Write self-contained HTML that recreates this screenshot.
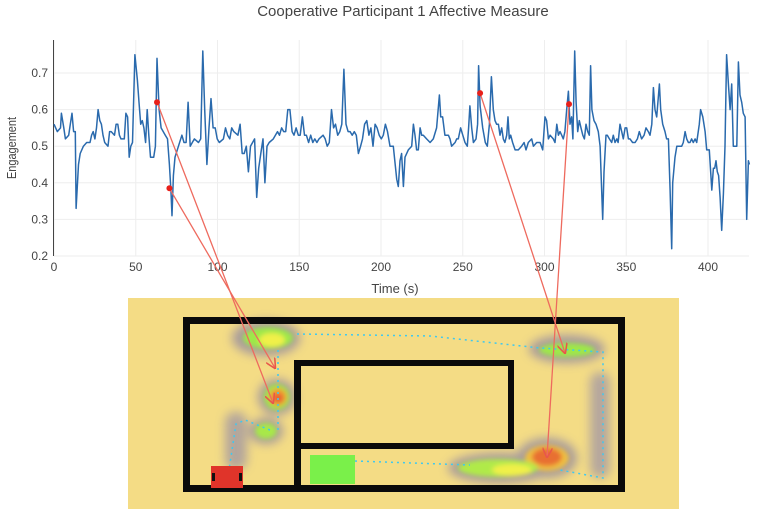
<!DOCTYPE html>
<html><head><meta charset="utf-8"><style>
html,body{margin:0;padding:0;background:#fff;}
body{width:763px;height:520px;overflow:hidden;position:relative;font-family:"Liberation Sans",sans-serif;}
svg{position:absolute;left:0;top:0;}
</style></head><body>
<svg id="chart" width="763" height="520">
  <defs>
    <filter id="blur4" x="-50%" y="-50%" width="200%" height="200%"><feGaussianBlur stdDeviation="5"/></filter>
    <filter id="blur2" x="-50%" y="-50%" width="200%" height="200%"><feGaussianBlur stdDeviation="2.5"/></filter>
    <marker id="arrow" viewBox="0 0 10 10" refX="9" refY="5" markerWidth="8" markerHeight="8" orient="auto">
      <path d="M0,0 L10,5 L0,10" fill="none" stroke="#e8574a" stroke-width="1.5"/>
    </marker>
  </defs>
  <text x="403" y="16" text-anchor="middle" font-size="15" fill="#444">Cooperative Participant 1 Affective Measure</text>
  <g id="grid"></g>
  <g id="axes"></g>
  <text x="395" y="293" text-anchor="middle" font-size="13" fill="#444">Time (s)</text>
  <text transform="translate(16,148) rotate(-90)" text-anchor="middle" font-size="13" fill="#444" textLength="62" lengthAdjust="spacingAndGlyphs">Engagement</text>

  <g>
    <rect x="128" y="298" width="551" height="211" fill="#f4dc85"/>
    <g>
      <g filter="url(#blur4)" opacity="0.85">
        <ellipse cx="266" cy="338" rx="34" ry="18" fill="#9a8fa0"/>
        <ellipse cx="277" cy="397" rx="19" ry="18" fill="#9a8fa0"/>
        <ellipse cx="266" cy="431" rx="17" ry="13" fill="#9a8fa0"/>
        <rect x="225" y="412" width="22" height="58" rx="10" fill="#a89ca0"/>
        <ellipse cx="567" cy="349" rx="38" ry="14" fill="#9a8fa0"/>
        <ellipse cx="547" cy="458" rx="30" ry="20" fill="#9a8fa0"/>
        <ellipse cx="500" cy="468" rx="52" ry="15" fill="#9a8fa0"/>
        <rect x="590" y="372" width="20" height="106" rx="10" fill="#aa9ea2"/>
      </g>
      <g filter="url(#blur2)">
        <ellipse cx="268" cy="338" rx="25" ry="11" fill="#9ee84a"/>
        <ellipse cx="272" cy="340" rx="13" ry="7" fill="#f0f04a"/>
        <ellipse cx="277" cy="397" rx="13" ry="13" fill="#9ee84a"/>
        <ellipse cx="278" cy="397" rx="9" ry="9" fill="#f0a030"/>
        <ellipse cx="278" cy="398" rx="5" ry="5" fill="#e86030"/>
        <ellipse cx="266" cy="431" rx="11" ry="8" fill="#a8e84a"/>
        <ellipse cx="567" cy="350" rx="28" ry="7" fill="#9ee84a"/>
        <ellipse cx="547" cy="458" rx="22" ry="13" fill="#f0c040"/>
        <ellipse cx="547" cy="457" rx="15" ry="9" fill="#e87030"/>
        <ellipse cx="498" cy="468" rx="40" ry="9" fill="#b0ea4a"/>
        <ellipse cx="512" cy="470" rx="20" ry="6" fill="#f0f04a"/>
      </g>
      <path d="M297,334 L430,336 L540,348 L603,352 L603,478 L560,470 M355,461 L470,465 M278,350 L278,430 M270,430 L245,420 L236,424 L229,470" fill="none" stroke="#3ec8f0" stroke-width="1.5" stroke-dasharray="2 4"/>
    </g>
    <g fill="#0a0a0a">
      <rect x="183" y="317" width="442" height="7"/>
      <rect x="183" y="485" width="442" height="7"/>
      <rect x="183" y="317" width="7" height="175"/>
      <rect x="618" y="317" width="7" height="175"/>
      <rect x="294" y="360" width="220" height="6"/>
      <rect x="294" y="443" width="220" height="6"/>
      <rect x="508" y="360" width="6" height="89"/>
      <rect x="294" y="360" width="7" height="132"/>
    </g>
    <rect x="310" y="455" width="45" height="29" fill="#7af04a"/>
    <g>
      <rect x="211" y="466" width="32" height="22" fill="#e0342a"/>
      <rect x="212" y="473" width="3" height="8" fill="#111"/>
      <rect x="239" y="473" width="3" height="8" fill="#111"/>
    </g>
  </g>
  <path id="line" fill="none" stroke="#2a6aad" stroke-width="1.5" stroke-linejoin="round"/>
  <g id="links"></g>
</svg>
<script>
const times = [0,2,4,4.5,6,7,9,10,11,12,13,13.5,15,16,18,20,22,23,24,25,26,27,28,29,30,31,33,34,35,37,38,39,40,41,43,44,45,46,47,48,49.5,51,52,53,54,55,56,57,58,59,61,62,63,64.3,65.5,68.1,69.4,70.6,71.5,72.2,73,74,78.2,79.5,80.8,82,83.3,84.6,85.9,88.4,89.7,91,92.2,93.5,94.8,96,97.3,98.6,99.8,101.1,103.6,104.9,106.2,107.5,108.7,110,112.5,113.8,115.1,116.3,117.6,118.9,120.2,122.7,124,125.2,126.5,127.8,129,130.3,131.6,134.1,135.4,136.7,137.9,139.2,140.5,141.7,143,144.3,145.6,146.8,148.1,149.4,150.6,151.9,153.2,154.4,155.7,157,158.3,159.5,160.8,162.1,164.6,165.9,167.1,168.4,169.7,171,172.2,173.5,174.8,176,177.3,178.6,179.9,181.1,182.4,183.7,184.9,186.2,187.5,188.7,190,191.3,192.6,193.8,195.1,196.4,197.6,198.9,200.2,201.4,202.7,204,
205.5,207.5,209.6,210.6,211.6,212.6,213.7,214.7,216.7,218.8,219.8,220.8,221.8,222.8,223.9,224.9,225.9,227.9,230,232,234,235.7,236.5,237.7,239.1,241.2,242.2,243.2,245.3,246.3,247.3,248.7,250,251.4,252.8,253.6,254.4,255.5,256.5,258.1,259.1,259.7,260.6,262.2,263.8,265,266.3,267.5,268.7,269.7,270.7,271.8,272.8,273.8,274.8,275.8,276.9,277.7,278.5,279.3,280.5,282,284,286,287.5,288.7,290.1,292.2,293.2,295.2,297.3,298.9,300.3,301.3,302.4,303.4,305.4,306.4,307.5,308.5,309.5,310.5,311.5,312.5,313.6,314.6,315.6,316.6,317.4,318.5,319.3,320.3,321.3,322.3,323.4,324.4,325.4,326.4,327.4,328.2,329,330.3,331.5,332.9,334,334.8,335.6,336.4,337.6,338.4,339.7,341.1,342.1,343.1,344.2,345,346.2,347.2,348.2,349.3,350.3,351.3,352.3,353.9,355.4,356.8,358,359.4,360.9,362.1,363.5,364.5,365.6,366.6,367.6,368.6,370.3,371.1,372.3,373.7,374.7,375.8,376.8,377.8,378.4,379.8,380.9,382.5,383.9,384.9,386,387,388,389,390,391,392.1,393.1,394.7,395.5,396.8,398.2,399.2,400.8,402.3,403.3,404.1,404.9,405.7,406.5,407.4,408.4,409.4,410.4,411.4,412.5,413.5,414.5,415.5,417.6,418.6,419.6,420.6,421.6,422.7,423.7,424.7,425.3];
const values = [0.56,0.54,0.55,0.59,0.55,0.52,0.53,0.56,0.59,0.54,0.54,0.33,0.45,0.48,0.5,0.51,0.51,0.53,0.54,0.52,0.55,0.6,0.57,0.56,0.53,0.51,0.5,0.54,0.54,0.53,0.56,0.56,0.53,0.52,0.52,0.59,0.58,0.47,0.5,0.51,0.75,0.68,0.62,0.56,0.57,0.55,0.51,0.6,0.53,0.47,0.47,0.5,0.74,0.6,0.55,0.53,0.52,0.45,0.38,0.31,0.42,0.47,0.53,0.51,0.51,0.62,0.5,0.51,0.52,0.51,0.52,0.76,0.6,0.45,0.55,0.63,0.55,0.55,0.52,0.51,0.52,0.55,0.53,0.52,0.55,0.54,0.53,0.56,0.48,0.48,0.5,0.43,0.5,0.52,0.36,0.44,0.48,0.52,0.4,0.5,0.51,0.52,0.53,0.54,0.53,0.55,0.54,0.54,0.6,0.6,0.54,0.53,0.55,0.53,0.53,0.58,0.53,0.53,0.51,0.53,0.51,0.52,0.51,0.52,0.53,0.52,0.5,0.51,0.6,0.55,0.56,0.53,0.54,0.56,0.71,0.56,0.54,0.54,0.53,0.54,0.53,0.48,0.5,0.52,0.56,0.57,0.53,0.55,0.5,0.56,0.55,0.53,0.52,0.53,0.56,0.54,
0.5,0.5,0.41,0.39,0.46,0.48,0.39,0.47,0.49,0.5,0.56,0.53,0.49,0.49,0.55,0.53,0.53,0.52,0.51,0.52,0.55,0.64,0.58,0.58,0.53,0.53,0.52,0.5,0.51,0.52,0.52,0.55,0.53,0.51,0.5,0.55,0.61,0.55,0.51,0.52,0.56,0.72,0.61,0.55,0.51,0.5,0.56,0.69,0.6,0.57,0.56,0.56,0.53,0.55,0.52,0.51,0.53,0.58,0.52,0.53,0.51,0.49,0.49,0.5,0.51,0.49,0.51,0.52,0.5,0.51,0.51,0.49,0.58,0.57,0.52,0.53,0.52,0.51,0.56,0.53,0.54,0.53,0.52,0.54,0.6,0.65,0.56,0.58,0.52,0.76,0.62,0.54,0.57,0.55,0.53,0.52,0.56,0.54,0.53,0.72,0.6,0.57,0.56,0.54,0.5,0.4,0.3,0.43,0.53,0.53,0.52,0.51,0.53,0.51,0.52,0.51,0.56,0.54,0.52,0.55,0.55,0.52,0.52,0.51,0.51,0.52,0.54,0.52,0.53,0.55,0.54,0.53,0.56,0.66,0.6,0.58,0.67,0.6,0.56,0.54,0.52,0.52,0.38,0.22,0.4,0.47,0.5,0.5,0.5,0.51,0.54,0.52,0.51,0.51,0.52,0.51,0.52,0.51,0.56,0.6,0.58,0.54,0.49,0.49,0.38,0.44,0.44,0.46,0.43,0.42,0.36,0.27,0.37,0.5,0.75,0.67,0.6,0.67,0.5,0.5,0.73,0.64,0.62,0.59,0.58,0.3,0.46,0.45];
const xTicks = [0,50,100,150,200,250,300,350,400];
const yTicks = [0.2,0.3,0.4,0.5,0.6,0.7];
const markerTimes = [63,70.6,260.6,315];
const markerValues = [0.62,0.385,0.645,0.615];
const markerTargetsX = [273,275,565,547];
const markerTargetsY = [403,368,353,457];

const X0=54, XPX=1.635, Y0=256, YPX=366;
function sx(t){return X0+t*XPX;}
function sy(v){return Y0-(v-0.2)*YPX;}
const NS='http://www.w3.org/2000/svg';
const grid=document.getElementById('grid'), axes=document.getElementById('axes');
function mk(tag,attrs,parent){const e=document.createElementNS(NS,tag);for(const k in attrs)e.setAttribute(k,attrs[k]);parent.appendChild(e);return e;}
xTicks.forEach(t=>{
  const g=mk('line',{x1:sx(t),x2:sx(t),y1:40,y2:256,stroke:'#eee','stroke-width':1},grid);
  
  
  const l=mk('text',{x:sx(t),y:271,'text-anchor':'middle','font-size':12,fill:'#444'},axes);
  l.textContent=t;
  
  
});
yTicks.forEach(v=>{
  const g=mk('line',{x1:54,x2:749,y1:sy(v),y2:sy(v),stroke:'#eee','stroke-width':1},grid);
  
  
  const l=mk('text',{x:48,y:sy(v)+4,'text-anchor':'end','font-size':12,fill:'#444'},axes);
  l.textContent=v.toFixed(1);
  
  
});
const ax=mk('line',{x1:53.5,x2:53.5,y1:40,y2:256,stroke:'#444','stroke-width':1},axes);


let d='';
times.forEach((t,i)=>{d+=(i?'L':'M')+sx(t).toFixed(1)+','+sy(values[i]).toFixed(1);});
document.getElementById('line').setAttribute('d',d);
const links=document.getElementById('links');
markerTimes.forEach((t,i)=>{
  const ln=mk('line',{x1:sx(t),y1:sy(markerValues[i]),x2:markerTargetsX[i],y2:markerTargetsY[i],stroke:'#ee6a5e','stroke-width':1.3,'marker-end':'url(#arrow)'},links);
  
  
  const c=mk('circle',{cx:sx(t),cy:sy(markerValues[i]),r:3,fill:'#e8201a'},links);
  
  
});
</script>
</body></html>
